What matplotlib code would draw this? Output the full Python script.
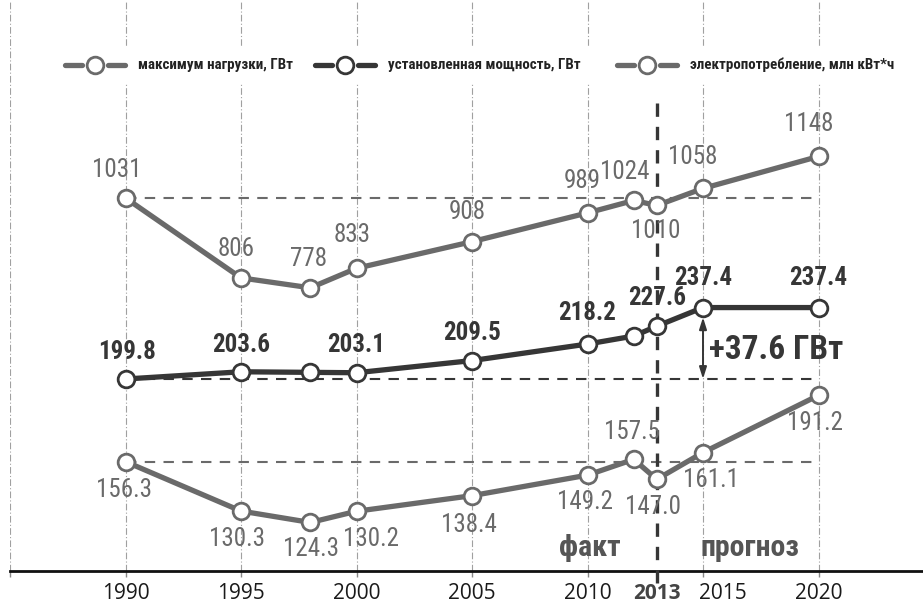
import matplotlib
matplotlib.use('Agg')
import matplotlib.pyplot as plt
import matplotlib.transforms as mtransforms
from matplotlib import font_manager as fm
from matplotlib.lines import Line2D
from matplotlib.patches import Rectangle

# данные
years = [1990, 1995, 1998, 2000, 2005, 2010, 2012, 2013, 2015, 2020]
consumption = [1031, 806, 778, 833, 908, 989, 1024, 1010, 1058, 1148]
capacity = [199.8, 203.6, 203.3, 203.1, 209.5, 218.2, 222.4, 227.6, 237.4, 237.4]
peak_load = [156.3, 130.3, 124.3, 130.2, 138.4, 149.2, 157.5, 147.0, 161.1, 191.2]
capacity_shown = [True, True, False, True, True, True, False, True, True, True]

tick_years = [1985, 1990, 1995, 2000, 2005, 2010, 2013, 2015, 2020]
tick_labels = ['', '1990', '1995', '2000', '2005', '2010', '2013', '2015', '2020']
legend_names = ['максимум нагрузки, ГВт', 'установленная мощность, ГВт',
                'электропотребление, млн кВт*ч']
delta_text = '+37.6 ГВт'
fact_text = 'факт'
forecast_text = 'прогноз'

# смещения подписей (пиксели)
cons_off = [(-9, 28), (-5, 29), (-2, 29), (-4, 33), (-5, 30), (-5, 32), (-9, 28), (-1, -26), (-10, 31), (-10, 32)]
cap_off = [(2, 27), (0, 27), None, (0, 28), (0, 28), (0, 31), None, (0, 28), (0, 30), (0, 30)]
peak_off = [(-2, -28), (-4, -28), (1, -27), (14, -28), (-3, -29), (-3, -27), (-2, 27), (-4, -28), (8, -27), (-4, -28)]

avail = {f.name for f in fm.fontManager.ttflist}
narrow = next((n for n in ['Liberation Sans Narrow', 'Roboto Condensed', 'Open Sans Condensed']
               if n in avail), 'DejaVu Sans')
plt.rcParams['font.family'] = [narrow, 'DejaVu Sans']
tick_font = ['Open Sans', 'DejaVu Sans']

GRAY = '#6a6a6a'
DARK = '#363636'

W, H = 923, 603
fig = plt.figure(figsize=(W / 100, H / 100), dpi=100)
ax = fig.add_axes([10 / W, 32 / H, 1 - 10 / W, 571 / H])
ax.set_xlim(1985, 1985 + 913 / 23.1)
ax.set_ylim(199.8 - 192 / 1.9, 199.8 + 379 / 1.9)
ax2 = ax.twinx()
ax2.set_ylim(1031 - 373 / 0.355, 1031 + 198 / 0.355)

for a in (ax, ax2):
    for s in ['top', 'right', 'left']:
        a.spines[s].set_visible(False)
    a.set_yticks([])
ax2.spines['bottom'].set_visible(False)
ax.spines['bottom'].set_linewidth(2)
ax.spines['bottom'].set_color('#111111')

ax.set_xticks(tick_years)
ax.set_xticklabels(tick_labels, fontsize=15, color='#1a1a1a', family=tick_font)
ax.tick_params(axis='x', length=4.5, width=1, color='#888888', pad=4)
lab = ax.get_xticklabels()
lab[6].set_fontweight('bold')
lab[6].set_color('#444444')
lab[7].set_transform(lab[7].get_transform() +
                     mtransforms.ScaledTranslation(20 / 100, 0, fig.dpi_scale_trans))
ax.grid(axis='x', color='#a0a0a0', linewidth=0.8, linestyle=(0, (6, 2, 1, 2)))
ax.xaxis.get_gridlines()[6].set_visible(False)
ax.set_axisbelow(True)

lkw = dict(linewidth=3.8, marker='o', markersize=12, markerfacecolor='white',
           markeredgewidth=2, solid_capstyle='round', zorder=5)
ax2.plot(years, consumption, color=GRAY, markeredgecolor=GRAY, **lkw)
ax.plot(years, capacity, color=DARK, markeredgecolor=DARK, **lkw)
ax.plot(years, peak_load, color=GRAY, markeredgecolor=GRAY, **lkw)

# опорные пунктирные линии
ax2.plot([years[0], years[-1]], [consumption[0]] * 2, color=GRAY, lw=1.5, ls=(0, (5, 4)), zorder=2)
ax.plot([years[0], years[-1]], [capacity[0]] * 2, color=DARK, lw=1.5, ls=(0, (5, 4)), zorder=2)
ax.plot([years[0], years[-1]], [peak_load[0]] * 2, color=GRAY, lw=1.5, ls=(0, (5, 4)), zorder=2)

ax.axvline(2013, ymin=-12 / 571, ymax=(571 - 102) / 571, color=DARK, lw=2.4,
           ls=(0, (4, 3)), clip_on=False, zorder=3)

for x, v, off in zip(years, consumption, cons_off):
    ax2.annotate(str(v), (x, v), xytext=off, textcoords='offset pixels',
                 ha='center', va='center', fontsize=18, color=GRAY, zorder=6)
for x, v, off, show in zip(years, capacity, cap_off, capacity_shown):
    if show:
        ax.annotate(f'{v:.1f}', (x, v), xytext=off, textcoords='offset pixels',
                    ha='center', va='center', fontsize=18, color=DARK,
                    fontweight='bold', zorder=6)
for x, v, off in zip(years, peak_load, peak_off):
    ax.annotate(f'{v:.1f}', (x, v), xytext=off, textcoords='offset pixels',
                ha='center', va='center', fontsize=18, color=GRAY, zorder=6)

# стрелка прироста
ax.annotate('', xy=(2015, capacity[8]), xytext=(2015, capacity[0]),
            arrowprops=dict(arrowstyle='<|-|>,head_length=0.7,head_width=0.22',
                            color=DARK, lw=1.4, shrinkA=0, shrinkB=7), zorder=4)
ax.text(2015.25, (capacity[8] + capacity[0]) / 2 - 3.6, delta_text, fontsize=24,
        fontweight='bold', color=DARK, ha='left', va='center')

ax.text(2010.1, 111, fact_text, fontsize=21.5, fontweight='bold', color='#555555',
        ha='center', va='center')
ax.text(2014.9, 111, forecast_text, fontsize=21.5, fontweight='bold', color='#555555',
        ha='left', va='center')

# легенда
fig.patches.append(Rectangle((30 / W, 1 - 82 / H), 870 / W, 36 / H,
                             transform=fig.transFigure, color='white', zorder=1))
ly = 1 - 65 / H
for x0, name, col in zip([65, 315, 617], legend_names, [GRAY, DARK, GRAY]):
    for a0, a1 in [(x0, x0 + 17), (x0 + 43, x0 + 60)]:
        fig.add_artist(Line2D([a0 / W, a1 / W], [ly, ly], color=col, lw=3.8,
                              solid_capstyle='round', transform=fig.transFigure, zorder=2))
    fig.add_artist(Line2D([(x0 + 30) / W], [ly], marker='o', markersize=12,
                          markerfacecolor='white', markeredgecolor=col,
                          markeredgewidth=2, transform=fig.transFigure, zorder=2))
    fig.text((x0 + 73) / W, ly, name, fontsize=10.8, fontweight='bold',
             color='#222222', ha='left', va='center', zorder=3)

fig.savefig('out.png', dpi=100)
